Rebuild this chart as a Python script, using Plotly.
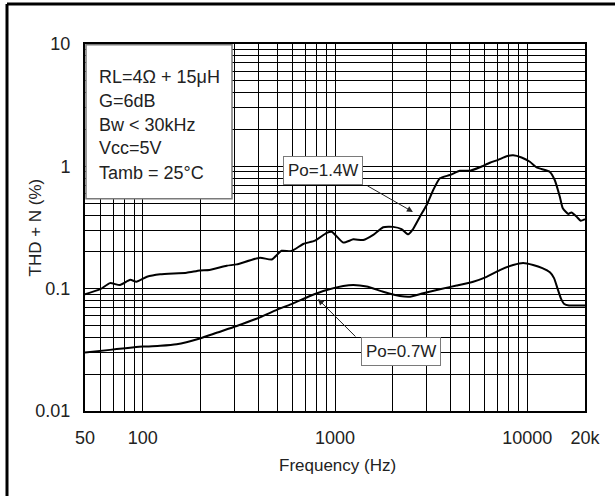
import numpy as np
import plotly.graph_objects as go

# ---- data ----
freq_14 = [50, 60, 67.5, 76, 86, 92.5, 105, 123, 169, 198, 222, 273, 308, 407, 468, 527, 593,
           684, 787, 906, 962, 1104, 1245, 1403, 1581, 1782, 2009, 2219, 2404, 2530, 2767,
           3000, 3245, 3514, 3963, 4467, 5040, 5675, 6400, 7063, 7820, 8460, 9350, 10330,
           11200, 11890, 13130, 13930, 14790, 15330, 16370, 17000, 18080, 19000, 20000]
thd_14 = [0.090, 0.099, 0.111, 0.107, 0.118, 0.114, 0.125, 0.131, 0.135, 0.141, 0.142, 0.154,
          0.158, 0.179, 0.173, 0.204, 0.203, 0.232, 0.247, 0.286, 0.292, 0.238, 0.253, 0.250,
          0.275, 0.318, 0.320, 0.307, 0.278, 0.302, 0.388, 0.483, 0.640, 0.798, 0.849, 0.920,
          0.920, 0.982, 1.07, 1.13, 1.21, 1.23, 1.18, 1.09, 0.98, 0.95, 0.90, 0.77, 0.565,
          0.454, 0.408, 0.42, 0.388, 0.359, 0.37]

freq_07 = [50, 67.5, 100, 123, 150, 198, 242, 308, 407, 497, 606, 741, 906, 1104, 1245, 1462,
           1782, 2178, 2458, 2877, 3514, 4295, 5240, 6150, 7210, 8460, 9530, 10740, 12000,
           13130, 13800, 14400, 15000, 15600, 16500, 18000, 20000]
thd_07 = [0.030, 0.0316, 0.0336, 0.0341, 0.0351, 0.0392, 0.0436, 0.0495, 0.0583, 0.067, 0.0759,
          0.0871, 0.0975, 0.105, 0.107, 0.104, 0.0944, 0.0871, 0.086, 0.0917, 0.099, 0.106,
          0.114, 0.125, 0.142, 0.156, 0.162, 0.156, 0.147, 0.136, 0.122, 0.100, 0.083, 0.075,
          0.073, 0.073, 0.073]

x_tickvals = [50, 100, 1000, 10000, 20000]
x_ticktext = ["50", "100", "1000", "10000", "20k"]
y_tickvals = [0.01, 0.1, 1, 10]
y_ticktext = ["0.01", "0.1", "1", "10"]

conditions = ["RL=4\u03a9 + 15\u03bcH", "G=6dB", "Bw < 30kHz", "Vcc=5V", "Tamb = 25\u00b0C"]

# annotation anchors: (label, text-centre f, v, arrow tail f, v, arrow tip f, v)
labels = [
    ("Po=1.4W", 865, 0.925, 1449, 0.704, 2544, 0.424),
    ("Po=0.7W", 2203, 0.0309, 1301, 0.0395, 815, 0.0823),
]

FONT = "Arial, 'Liberation Sans', sans-serif"

fig = go.Figure()
for fx, fy in [(freq_14, thd_14), (freq_07, thd_07)]:
    fig.add_trace(go.Scatter(x=fx, y=fy, mode="lines",
                             line=dict(color="black", width=2, shape="spline", smoothing=0.5),
                             showlegend=False, hoverinfo="skip"))

axis_common = dict(type="log", showline=True, mirror=True, linecolor="black", linewidth=2,
                   showgrid=True, gridcolor="black", gridwidth=1, ticks="", zeroline=False,
                   tickfont=dict(family=FONT, size=18, color="#222"),
                   minor=dict(showgrid=True, gridcolor="black", gridwidth=1, dtick="D1"))

fig.update_xaxes(range=[np.log10(50), np.log10(20000)], tickvals=x_tickvals, ticktext=x_ticktext,
                 ticklabelstandoff=9, **axis_common)
fig.update_yaxes(range=[-2, 1], tickvals=y_tickvals, ticktext=y_ticktext,
                 ticklabelstandoff=9, **axis_common)

shapes = []
# conditions box
shapes.append(dict(type="rect", xref="paper", yref="paper", x0=0.002, x1=0.294, y0=0.578, y1=0.998,
                   fillcolor="white", line=dict(color="#7a7a7a", width=1.5), layer="above"))
# outer frame (top + left)
shapes.append(dict(type="line", xref="paper", yref="paper", x0=-0.156, x1=1.07, y0=1.109, y1=1.109,
                   line=dict(color="black", width=3)))
shapes.append(dict(type="line", xref="paper", yref="paper", x0=-0.156, x1=-0.156, y0=1.109, y1=-0.25,
                   line=dict(color="black", width=3)))
fig.update_layout(shapes=shapes)

ann = []
line_y = [77, 101, 125, 148, 173]
for t, py in zip(conditions, line_y):
    ann.append(dict(text=t, xref="paper", yref="paper", x=0.024, y=(411 - py) / 367,
                    xanchor="left", yanchor="middle", showarrow=False,
                    font=dict(family=FONT, size=18, color="#222")))

for lab, tf, tv, af, av, hf, hv in labels:
    ann.append(dict(x=np.log10(hf), y=np.log10(hv), ax=np.log10(af), ay=np.log10(av),
                    xref="x", yref="y", axref="x", ayref="y", text="", showarrow=True,
                    arrowhead=2, arrowsize=1.2, arrowwidth=1, arrowcolor="#222"))
    ann.append(dict(x=np.log10(tf), y=np.log10(tv), xref="x", yref="y", text=lab, showarrow=False,
                    bgcolor="white", bordercolor="#7a7a7a", borderwidth=1, borderpad=4,
                    font=dict(family=FONT, size=17, color="#222")))

# axis titles
ann.append(dict(text="Frequency (Hz)", xref="paper", yref="paper", x=0.504, y=(411 - 466) / 367,
                xanchor="center", yanchor="middle",
                showarrow=False, font=dict(family=FONT, size=17, color="#222")))
ann.append(dict(text="THD + N (%)", xref="paper", yref="paper", x=(35 - 85) / 500, y=0.5,
                xanchor="center", yanchor="middle",
                textangle=-90, showarrow=False, font=dict(family=FONT, size=17, color="#222")))
fig.update_layout(annotations=ann)

fig.update_layout(width=615, height=496, margin=dict(l=85, r=30, t=44, b=85),
                  paper_bgcolor="white", plot_bgcolor="white")

fig.write_html("out.html", config={"displayModeBar": False},
               post_script="document.body.style.margin='0';")
